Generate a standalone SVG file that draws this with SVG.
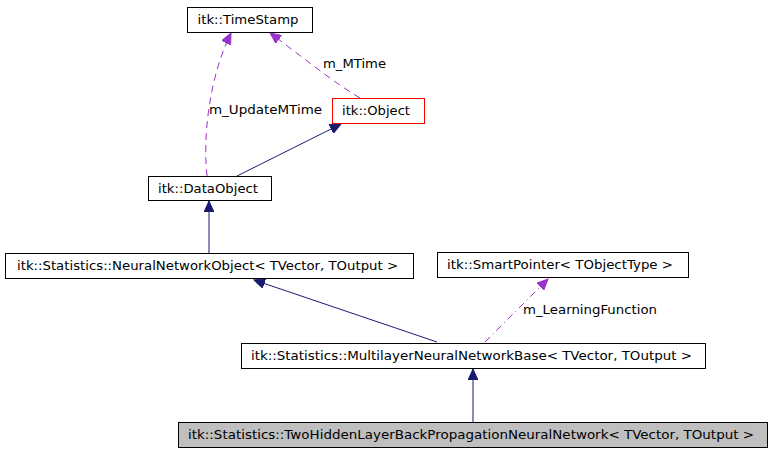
<svg xmlns="http://www.w3.org/2000/svg" width="772" height="451" viewBox="0 0 772 451">
<style>
.n{fill:#fff;stroke:#000;stroke-width:1}
.t{font-family:"DejaVu Sans",sans-serif;font-size:13px;fill:#000;text-anchor:middle}
.l{font-family:"DejaVu Sans",sans-serif;font-size:13px;fill:#000}
.inh{fill:none;stroke:#191970;stroke-width:1}
.use{fill:none;stroke:#9a32cd;stroke-width:1;stroke-dasharray:7,5}
.use2{fill:none;stroke:#9a32cd;stroke-width:1;stroke-dasharray:7,4,1,4}
</style>
<defs>
<marker id="ai" markerWidth="12" markerHeight="10" refX="11" refY="5" orient="auto" markerUnits="userSpaceOnUse"><path d="M0,0 L11,5 L0,10 Z" fill="#191970" stroke="#191970"/></marker>
<marker id="au" markerWidth="12" markerHeight="10" refX="11" refY="5" orient="auto" markerUnits="userSpaceOnUse"><path d="M0,0 L11,5 L0,10 Z" fill="#9a32cd" stroke="#9a32cd"/></marker>
</defs>
<rect width="772" height="451" fill="#fff"/>
<g id="connectors">
<path class="use" d="M207,176 C203,140 208,80 231,33" marker-end="url(#au)"/>
<path class="use" d="M360,98 C330,80 300,55 270,33" marker-end="url(#au)"/>
<path class="inh" d="M237,176 L341,124" marker-end="url(#ai)"/>
<path class="inh" d="M209,253 L209,201" marker-end="url(#ai)"/>
<path class="inh" d="M437,342 L254,280" marker-end="url(#ai)"/>
<path class="use2" d="M485,342 L548,279" marker-end="url(#au)"/>
<path class="inh" d="M473,422 L473,369" marker-end="url(#ai)"/>
<text class="l" x="209" y="114" textLength="113" lengthAdjust="spacingAndGlyphs">m_UpdateMTime</text>
<text class="l" x="323" y="68" textLength="63" lengthAdjust="spacingAndGlyphs">m_MTime</text>
<text class="l" x="523" y="314" textLength="134" lengthAdjust="spacingAndGlyphs">m_LearningFunction</text>
</g>
<g id="timestamp"><rect class="n" x="187.5" y="7.5" width="125" height="25"/><text class="t" x="248" y="24" textLength="101" lengthAdjust="spacingAndGlyphs">itk::TimeStamp</text></g>
<g id="object"><rect x="332.5" y="98.5" width="92" height="25" fill="#fff" stroke="#ff0000"/><text class="t" x="376" y="115" textLength="68" lengthAdjust="spacingAndGlyphs">itk::Object</text></g>
<g id="dataobject"><rect class="n" x="148.5" y="176.5" width="123" height="24"/><text class="t" x="208" y="193" textLength="100" lengthAdjust="spacingAndGlyphs">itk::DataObject</text></g>
<g id="nnobject"><rect class="n" x="5.5" y="253.5" width="408" height="25"/><text class="t" x="207.5" y="270" textLength="381" lengthAdjust="spacingAndGlyphs">itk::Statistics::NeuralNetworkObject&lt; TVector, TOutput &gt;</text></g>
<g id="smartpointer"><rect class="n" x="437.5" y="252.5" width="251" height="25"/><text class="t" x="560" y="269" textLength="226" lengthAdjust="spacingAndGlyphs">itk::SmartPointer&lt; TObjectType &gt;</text></g>
<g id="mlbase"><rect class="n" x="241.5" y="343.5" width="464" height="25"/><text class="t" x="471.5" y="360" textLength="441" lengthAdjust="spacingAndGlyphs">itk::Statistics::MultilayerNeuralNetworkBase&lt; TVector, TOutput &gt;</text></g>
<g id="twohidden"><rect x="178.5" y="422.5" width="589" height="25" fill="#bfbfbf" stroke="#000"/><text class="t" x="471" y="439" textLength="566" lengthAdjust="spacingAndGlyphs">itk::Statistics::TwoHiddenLayerBackPropagationNeuralNetwork&lt; TVector, TOutput &gt;</text></g>
</svg>
